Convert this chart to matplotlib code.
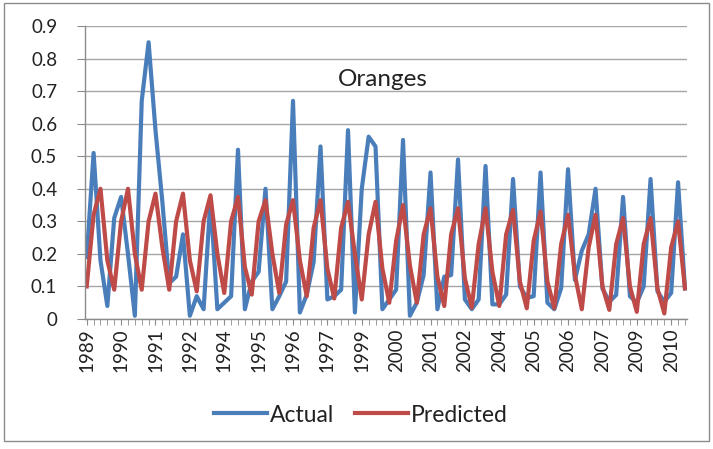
import matplotlib
matplotlib.use("Agg")
import matplotlib.pyplot as plt
from matplotlib.patches import Rectangle
import numpy as np

plt.rcParams['font.family'] = ['Lato', 'DejaVu Sans']

tick_labels = ["1989", "1990", "1991", "1992", "1994", "1995", "1996", "1997", "1999",
               "2000", "2001", "2002", "2004", "2005", "2006", "2007", "2009", "2010"]

actual = [0.19, 0.51, 0.18, 0.04, 0.31, 0.375, 0.20, 0.01, 0.67, 0.85, 0.58, 0.36,
          0.11, 0.13, 0.26, 0.01, 0.07, 0.03, 0.37, 0.03, 0.05, 0.07, 0.52, 0.03,
          0.115, 0.145, 0.40, 0.03, 0.07, 0.115, 0.67, 0.02, 0.075, 0.175, 0.53, 0.06,
          0.07, 0.09, 0.58, 0.02, 0.40, 0.56, 0.53, 0.03, 0.06, 0.09, 0.55, 0.01,
          0.05, 0.135, 0.45, 0.03, 0.13, 0.135, 0.49, 0.06, 0.03, 0.06, 0.47, 0.045,
          0.045, 0.075, 0.43, 0.10, 0.065, 0.07, 0.45, 0.05, 0.03, 0.095, 0.46, 0.12,
          0.21, 0.26, 0.40, 0.094, 0.053, 0.074, 0.375, 0.07, 0.05, 0.10, 0.43, 0.085,
          0.053, 0.08, 0.42, 0.094]

predicted = [0.10, 0.32, 0.40, 0.18, 0.09, 0.30, 0.40, 0.20, 0.09, 0.30, 0.385, 0.22,
             0.09, 0.30, 0.385, 0.18, 0.085, 0.30, 0.38, 0.20, 0.08, 0.30, 0.375, 0.16,
             0.075, 0.30, 0.365, 0.20, 0.08, 0.29, 0.365, 0.18, 0.07, 0.28, 0.365, 0.155,
             0.063, 0.28, 0.36, 0.20, 0.06, 0.26, 0.36, 0.155, 0.05, 0.24, 0.35, 0.165,
             0.05, 0.26, 0.34, 0.13, 0.04, 0.26, 0.34, 0.125, 0.035, 0.23, 0.34, 0.145,
             0.04, 0.26, 0.335, 0.115, 0.033, 0.24, 0.33, 0.115, 0.033, 0.23, 0.32, 0.135,
             0.03, 0.22, 0.32, 0.10, 0.028, 0.23, 0.31, 0.10, 0.022, 0.23, 0.31, 0.094,
             0.017, 0.22, 0.30, 0.094]

n = len(actual)
x = np.arange(n)

W, H = 713, 449
fig = plt.figure(figsize=(W / 100, H / 100), dpi=100)
fig.patch.set_facecolor("white")
fig.patches.append(Rectangle((4 / W, 1 - 441 / H), 705 / W, 438 / H,
                             transform=fig.transFigure, fill=False,
                             edgecolor="#8c8c8c", linewidth=1.0))

ax = fig.add_axes([85 / W, 1 - 319 / H, 602 / W, 293 / H])
ax.plot(x, actual, color="#4a7ebb", linewidth=3.0, label="Actual", solid_joinstyle="round")
ax.plot(x, predicted, color="#be4b48", linewidth=3.0, label="Predicted", solid_joinstyle="round")

ax.set_ylim(0, 0.9)
ax.set_xlim(-0.25, n - 0.7)
yt = np.round(np.arange(0, 0.91, 0.1), 1)
ax.set_yticks(yt)
ax.set_yticklabels(["0"] + [f"{v:.1f}" for v in yt[1:]])
ax.yaxis.grid(True, color="#a6a6a6", linewidth=1.0)
ax.set_axisbelow(True)

ax.set_xticks(x[::5][:len(tick_labels)])
ax.set_xticklabels(tick_labels, rotation=90)
ax.set_xticks(x, minor=True)

for s in ["top", "right"]:
    ax.spines[s].set_visible(False)
for s in ["left", "bottom"]:
    ax.spines[s].set_color("#8c8c8c")
    ax.spines[s].set_linewidth(1.0)

ax.tick_params(axis="y", length=6, color="#8c8c8c", labelsize=13.5, pad=14, labelcolor="#222222")
ax.tick_params(axis="x", which="major", length=4, color="#8c8c8c", labelsize=13.5, pad=3, labelcolor="#222222")
ax.tick_params(axis="x", which="minor", length=4, color="#8c8c8c")
for lbl in ax.get_xticklabels():
    lbl.set_x(lbl.get_position()[0])

ax.text(383 / W, 1 - 80 / H, "Oranges", transform=fig.transFigure, ha="center", va="center",
        fontsize=17.5, color="#222222")

leg = fig.legend(loc="center", bbox_to_anchor=(361 / W, 1 - 415 / H), ncol=2, frameon=False,
                 fontsize=16.5, handlelength=2.3, columnspacing=0.9, handletextpad=0.15)
for t in leg.get_texts():
    t.set_color("#222222")

fig.savefig("out.png", dpi=100, facecolor="white")
